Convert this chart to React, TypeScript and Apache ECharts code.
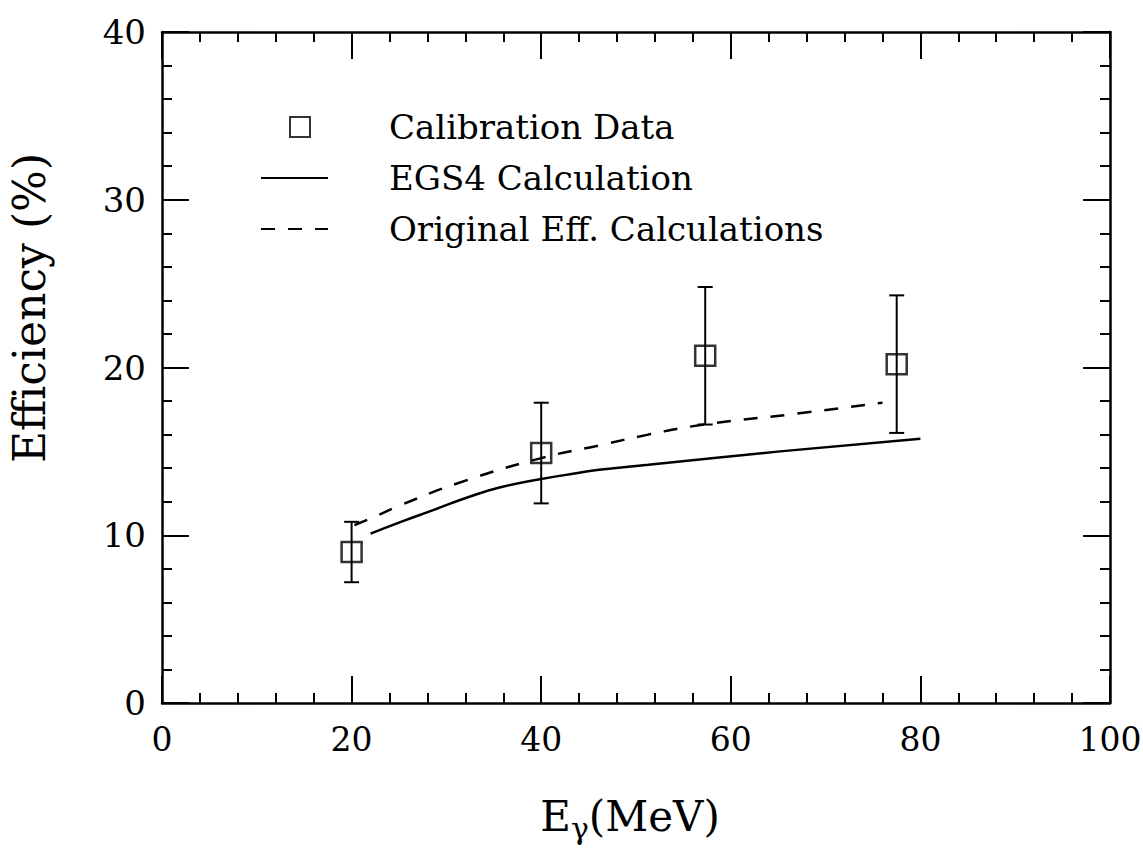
import React, { useEffect, useRef } from "react";
import * as echarts from "echarts";

// Calibration data: energy (MeV), efficiency (%), error (%)
const calX = [20, 40, 57.3, 77.5];
const calY = [9.0, 14.9, 20.7, 20.2];
const calErr = [1.8, 3.0, 4.1, 4.1];

// EGS4 calculation (solid)
const egsX = [22, 25.2, 28.6, 32.2, 35.6, 40, 42.6, 46.1, 51.3, 65.2, 80];
const egsY = [10.1, 10.8, 11.5, 12.25, 12.85, 13.35, 13.6, 13.9, 14.2, 15.0, 15.75];

// Original efficiency calculations (dashed)
const origX = [20.3, 22.8, 25.2, 31.2, 40, 46.1, 51.3, 57.2, 67, 76];
const origY = [10.6, 11.2, 11.8, 13.1, 14.6, 15.35, 16.0, 16.6, 17.25, 17.9];

const xTicks = { min: 0, max: 100, interval: 20 };
const yTicks = { min: 0, max: 40, interval: 10 };

const FONT = "DejaVu Serif";

export default function App() {
  const ref = useRef<HTMLDivElement>(null);
  useEffect(() => {
    const chart = echarts.init(ref.current!, null, { renderer: "svg" });
    const axisCommon = {
      type: "value" as const,
      axisLine: { show: true, onZero: false, lineStyle: { color: "#000", width: 2.5 } },
      axisTick: { show: true, inside: true, length: 27, lineStyle: { color: "#000", width: 2 } },
      minorTick: { show: true, splitNumber: 5, length: 10, lineStyle: { color: "#000", width: 2 } },
      splitLine: { show: false },
      minorSplitLine: { show: false },
    };
    const labelStyle = { color: "#000", fontFamily: FONT, fontSize: 34 };
    const legendText = { color: "#000", fontFamily: FONT, fontSize: 34, lineHeight: 40 };
    const hiddenDot = { color: "transparent", borderColor: "transparent", borderWidth: 0 };
    chart.setOption({
      animation: false,
      backgroundColor: "#fff",
      grid: { left: 162, right: 33, top: 32, bottom: 150, containLabel: false, outerBoundsMode: "none" },
      xAxis: [
        {
          ...axisCommon,
          ...xTicks,
          position: "bottom",
          axisLabel: { ...labelStyle, fontSize: 33, margin: 20 },
          name: "{e|E}{g|γ}{e|(MeV)}",
          nameLocation: "middle",
          nameGap: 92,
          nameTextStyle: {
            verticalAlign: "top",
            padding: [0, 12, 0, 0],
            rich: {
              e: { fontFamily: FONT, fontSize: 42, lineHeight: 48, color: "#000", verticalAlign: "top" },
              g: { fontFamily: FONT, fontSize: 30, lineHeight: 36, color: "#000", padding: [18, 0, 0, 0], verticalAlign: "top" },
            },
          },
        },
        {
          ...axisCommon,
          ...xTicks,
          position: "top",
          axisLabel: { show: false },
        },
      ],
      yAxis: [
        {
          ...axisCommon,
          ...yTicks,
          position: "left",
          axisLabel: { ...labelStyle, margin: 16 },
        },
        {
          ...axisCommon,
          ...yTicks,
          position: "right",
          axisLabel: { show: false },
        },
      ],
      legend: [
        {
          data: [{ name: "Calibration Data", icon: "rect", itemStyle: { color: "transparent", borderColor: "#000", borderWidth: 2 } }],
          orient: "vertical",
          left: 289,
          top: 107,
          padding: 0,
          itemWidth: 20,
          itemHeight: 20,
          selectedMode: false,
          textStyle: { ...legendText, padding: [0, 0, 0, 74] },
        },
        {
          data: [{ name: "EGS4 Calculation", itemStyle: hiddenDot }],
          orient: "vertical",
          left: 260,
          top: 158,
          padding: 0,
          itemWidth: 67,
          itemHeight: 14,
          selectedMode: false,
          itemStyle: hiddenDot,
          textStyle: { ...legendText, padding: [0, 0, 0, 56] },
        },
        {
          data: [{ name: "Original Eff. Calculations", itemStyle: hiddenDot }],
          orient: "vertical",
          left: 260,
          top: 209,
          padding: 0,
          itemWidth: 67,
          itemHeight: 14,
          selectedMode: false,
          itemStyle: hiddenDot,
          textStyle: { ...legendText, padding: [0, 0, 0, 56] },
        },
      ],
      graphic: [
        {
          type: "text",
          x: 29,
          y: 308,
          rotation: Math.PI / 2,
          style: {
            text: "Efficiency (%)",
            fontFamily: FONT,
            fontSize: 44,
            fill: "#000",
            align: "center",
            verticalAlign: "middle",
          },
        },
      ],
      series: [
        {
          name: "EGS4 Calculation",
          type: "line",
          data: egsX.map((x, i) => [x, egsY[i]]),
          symbol: "none",
          smooth: true,
          lineStyle: { color: "#000", width: 2.5, type: "solid" },
          itemStyle: { color: "#000" },
        },
        {
          name: "Original Eff. Calculations",
          type: "line",
          data: origX.map((x, i) => [x, origY[i]]),
          symbol: "none",
          smooth: true,
          lineStyle: { color: "#000", width: 2.5, type: [14, 13] },
          itemStyle: { color: "#000" },
        },
        {
          name: "errors",
          type: "custom",
          data: calX.map((x, i) => [x, calY[i] - calErr[i], calY[i] + calErr[i]]),
          renderItem: (params: any, api: any) => {
            const x = api.value(0);
            const lo = api.coord([x, api.value(1)]);
            const hi = api.coord([x, api.value(2)]);
            const w = 7.5;
            const style = { stroke: "#000", lineWidth: 2 };
            return {
              type: "group",
              children: [
                { type: "line", shape: { x1: lo[0], y1: lo[1], x2: hi[0], y2: hi[1] }, style },
                { type: "line", shape: { x1: lo[0] - w, y1: lo[1], x2: lo[0] + w, y2: lo[1] }, style },
                { type: "line", shape: { x1: hi[0] - w, y1: hi[1], x2: hi[0] + w, y2: hi[1] }, style },
              ],
            };
          },
          z: 3,
        },
        {
          name: "Calibration Data",
          type: "scatter",
          data: calX.map((x, i) => [x, calY[i]]),
          symbol: "rect",
          symbolSize: 20,
          itemStyle: { color: "transparent", borderColor: "#000", borderWidth: 2.5 },
          z: 4,
        },
      ],
    });
    return () => chart.dispose();
  }, []);
  return (
    <div
      ref={ref}
      style={{ position: "fixed", left: 0, top: 0, width: 1143, height: 853, background: "#fff" }}
    />
  );
}
